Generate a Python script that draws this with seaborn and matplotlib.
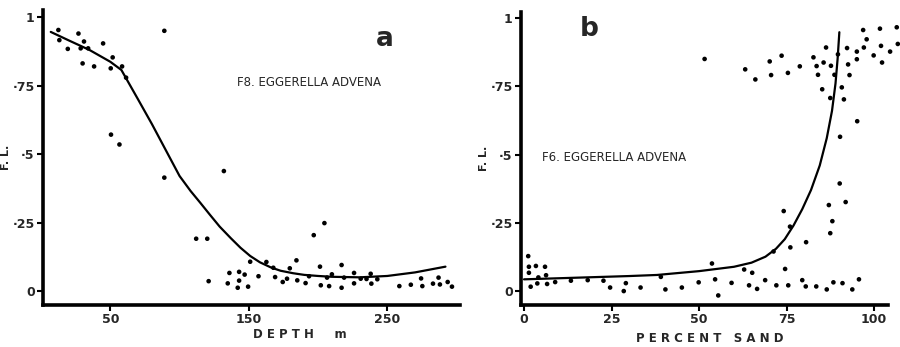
"""Eggerella advena frequency level vs depth and percent sand (two panels)."""

import matplotlib

matplotlib.use("Agg")

import matplotlib.pyplot as plt
import pandas as pd
import seaborn as sns

# panel a: depth (m) vs F.L.
depth_pts = [12.5, 13.2, 19.3, 27, 31, 28.6, 34, 30, 38.3, 44.8, 51.7, 50.3, 58.5, 61.4,
             50.5, 56.6, 89, 89, 112, 120, 121, 132, 136, 134.8, 143, 143, 142, 147,
             149.5, 151, 157, 162.7, 167.7, 169, 174.5, 177.6, 179.6, 184.4, 185, 191,
             193.5, 196.9, 204.6, 201.4, 202, 206.5, 208, 210, 217, 217, 218.8, 226,
             226, 230.8, 235, 238, 238.5, 242.8, 258.7, 267, 274.4, 275.3, 283, 287,
             288, 293.6, 296.7]
depth_fl = [0.953, 0.916, 0.884, 0.940, 0.911, 0.886, 0.886, 0.831, 0.820, 0.904, 0.853,
            0.813, 0.820, 0.779, 0.571, 0.535, 0.950, 0.414, 0.191, 0.191, 0.036, 0.438,
            0.066, 0.028, 0.070, 0.038, 0.012, 0.060, 0.016, 0.107, 0.054, 0.106, 0.085,
            0.051, 0.033, 0.045, 0.083, 0.112, 0.039, 0.029, 0.054, 0.204, 0.248, 0.089,
            0.021, 0.049, 0.018, 0.061, 0.095, 0.012, 0.049, 0.066, 0.028, 0.045, 0.044,
            0.063, 0.027, 0.043, 0.018, 0.023, 0.046, 0.018, 0.027, 0.049, 0.024, 0.033,
            0.016]
depth_curve = [7, 20, 35, 50, 58, 70, 80, 90, 100, 108, 115, 122, 129, 137, 144, 151,
               158, 166, 173, 182, 190, 200, 210, 230, 250, 270, 292]
depth_curve_fl = [0.946, 0.915, 0.88, 0.837, 0.807, 0.70, 0.61, 0.515, 0.42, 0.365, 0.322,
                  0.278, 0.235, 0.193, 0.158, 0.128, 0.105, 0.086, 0.074, 0.065, 0.059,
                  0.055, 0.052, 0.05, 0.055, 0.068, 0.089]

# panel b: percent sand vs F.L.
sand_pts = [1.2, 1.4, 1.4, 3.4, 4.1, 3.8, 1.9, 6, 6.3, 6.6, 8.9, 13.4, 18.2, 22.7, 24.6,
            28.5, 29.1, 33.3, 39.1, 40.4, 45.1, 49.9, 53.7, 54.6, 55.5, 59.3, 62.9, 64.3,
            65.2, 66.6, 68.9, 72.1, 71.3, 74.2, 76, 74.6, 75.5, 76.1, 80.6, 79.5, 80.5,
            83.5, 86.5, 88.4, 91, 93.8, 95.7, 87.1, 88.1, 87.5, 90.2, 91.9, 90.3, 95.2,
            51.6, 63.2, 66.1, 70.2, 70.6, 73.6, 75.4, 78.8, 82.7, 83.6, 84, 85.6, 86.3,
            87.7, 88.7, 89.7, 85.2, 87.5, 90.8, 91.4, 92.3, 92.6, 93, 95.1, 95.1, 96.9,
            97.9, 97.1, 99.9, 101.7, 102, 102.3, 104.6, 106.5, 106.8]
sand_fl = [0.128, 0.089, 0.067, 0.092, 0.050, 0.028, 0.016, 0.089, 0.058, 0.026, 0.033,
           0.038, 0.040, 0.038, 0.013, 0.0, 0.029, 0.013, 0.052, 0.006, 0.013, 0.032,
           0.101, 0.043, -0.016, 0.030, 0.079, 0.021, 0.067, 0.008, 0.040, 0.021, 0.145,
           0.293, 0.236, 0.081, 0.021, 0.160, 0.179, 0.040, 0.017, 0.017, 0.006, 0.032,
           0.029, 0.006, 0.043, 0.315, 0.256, 0.212, 0.394, 0.326, 0.565, 0.622, 0.850,
           0.812, 0.775, 0.841, 0.791, 0.862, 0.799, 0.823, 0.856, 0.824, 0.792, 0.837,
           0.892, 0.825, 0.792, 0.867, 0.739, 0.707, 0.746, 0.702, 0.890, 0.830, 0.791,
           0.877, 0.849, 0.956, 0.922, 0.892, 0.863, 0.961, 0.898, 0.837, 0.877, 0.966,
           0.905]
sand_curve = [0, 10, 20, 30, 38, 50, 60, 65, 69, 72, 74.5, 77, 79.5, 82, 84.5, 86.5, 88,
              89, 89.6, 90.1]
sand_curve_fl = [0.043, 0.047, 0.051, 0.055, 0.059, 0.073, 0.089, 0.104, 0.126, 0.155,
                 0.19, 0.24, 0.30, 0.37, 0.46, 0.56, 0.66, 0.76, 0.85, 0.948]

fl_ticks = [0, 0.25, 0.5, 0.75, 1]
fl_labels = ["0", "·25", "·5", "·75", "1"]
depth_ticks = [50, 150, 250]
sand_ticks = [0, 25, 50, 75, 100]

sns.set_theme(style="white")
plt.rcParams["font.family"] = ["DejaVu Sans"]

fig = plt.figure(figsize=(9, 3.47), dpi=100)
W, H = 900, 347


def px_axes(x0, x1, top, bottom):
    return fig.add_axes([x0 / W, 1 - bottom / H, (x1 - x0) / W, (bottom - top) / H])


def style_axis(ax, xticks):
    sns.despine(ax=ax)
    for side in ("left", "bottom"):
        ax.spines[side].set_linewidth(2.6)
        ax.spines[side].set_color("black")
    ax.set_yticks(fl_ticks)
    ax.set_yticklabels(fl_labels, fontweight="bold", fontsize=9)
    ax.set_xticks(xticks)
    ax.set_xticklabels([str(t) for t in xticks], fontweight="bold", fontsize=9)
    ax.tick_params(axis="both", which="both", direction="out", length=4, width=1.5,
                   color="black", pad=2, left=True, bottom=True)
    ax.set_xlabel("")
    ax.set_ylabel("F. L.", fontsize=8, fontweight="bold", labelpad=1)


ax_a = px_axes(43, 460, 10, 305)
pts_a = pd.DataFrame({"depth": depth_pts, "fl": depth_fl})
curve_a = pd.DataFrame({"depth": depth_curve, "fl": depth_curve_fl})
sns.scatterplot(data=pts_a, x="depth", y="fl", ax=ax_a, color="black", s=11,
                edgecolor="none", clip_on=False)
sns.lineplot(data=curve_a, x="depth", y="fl", ax=ax_a, color="black", linewidth=1.6,
             sort=False)
ax_a.set_xlim(1.4, 302.5)
ax_a.set_ylim(-0.051, 1.026)
style_axis(ax_a, depth_ticks)
ax_a.text(141.5, 0.76, "F8. EGGERELLA ADVENA", fontsize=8.5, va="center", ha="left")
ax_a.text(248, 0.92, "a", fontsize=19, fontweight="bold", va="center", ha="center")

ax_b = px_axes(521, 888, 12, 305)
pts_b = pd.DataFrame({"sand": sand_pts, "fl": sand_fl})
curve_b = pd.DataFrame({"sand": sand_curve, "fl": sand_curve_fl})
sns.scatterplot(data=pts_b, x="sand", y="fl", ax=ax_b, color="black", s=11,
                edgecolor="none", clip_on=False)
sns.lineplot(data=curve_b, x="sand", y="fl", ax=ax_b, color="black", linewidth=1.6,
             sort=False)
ax_b.set_xlim(-0.86, 104)
ax_b.set_ylim(-0.051, 1.022)
style_axis(ax_b, sand_ticks)
ax_b.text(5.1, 0.49, "F6. EGGERELLA ADVENA", fontsize=8.5, va="center", ha="left")
ax_b.text(18.5, 0.96, "b", fontsize=19, fontweight="bold", va="center", ha="center")

fig.text(300 / W, 1 - 335 / H, "D E P T H     m", fontsize=8.5, fontweight="bold",
         ha="center", va="center")
fig.text(710 / W, 1 - 338 / H, "P E R C E N T   S A N D", fontsize=8.5, fontweight="bold",
         ha="center", va="center")

fig.savefig("out.png", dpi=100)
plt.close(fig)
